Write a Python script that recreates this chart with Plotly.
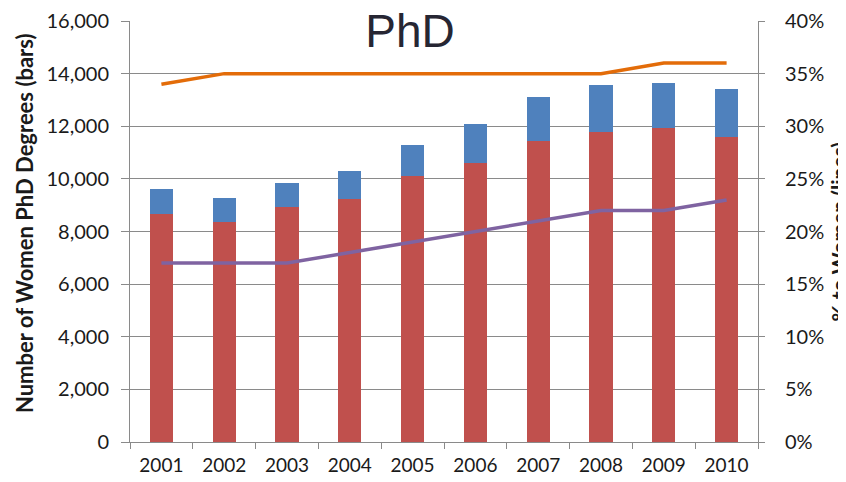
import plotly.graph_objects as go
from plotly.subplots import make_subplots

# Data
years = ["2001", "2002", "2003", "2004", "2005", "2006", "2007", "2008", "2009", "2010"]
phd_red = [8650, 8380, 8950, 9250, 10100, 10600, 11450, 11800, 11950, 11600]
phd_blue = [950, 900, 900, 1050, 1200, 1500, 1650, 1750, 1700, 1800]
pct_orange = [0.34, 0.35, 0.35, 0.35, 0.35, 0.35, 0.35, 0.35, 0.36, 0.36]
pct_purple = [0.17, 0.17, 0.17, 0.18, 0.19, 0.20, 0.21, 0.22, 0.22, 0.23]

left_ticks = [0, 2000, 4000, 6000, 8000, 10000, 12000, 14000, 16000]
right_ticks = [0, 0.05, 0.10, 0.15, 0.20, 0.25, 0.30, 0.35, 0.40]

FONT = "Lato"
GRID = "#8a8a8a"
PW = 628  # plot width in px

fig = make_subplots(specs=[[{"secondary_y": True}]])

fig.add_trace(go.Bar(x=years, y=phd_red, marker=dict(color="#C0504D", line=dict(width=0)),
                     showlegend=False), secondary_y=False)
fig.add_trace(go.Bar(x=years, y=phd_blue, marker=dict(color="#4F81BD", line=dict(width=0)),
                     showlegend=False), secondary_y=False)

fig.add_trace(go.Scatter(x=years, y=pct_orange, mode="lines",
                         line=dict(color="#E36C09", width=3.5), showlegend=False),
              secondary_y=True)
fig.add_trace(go.Scatter(x=years, y=pct_purple, mode="lines",
                         line=dict(color="#7F63A1", width=3.5), showlegend=False),
              secondary_y=True)

# page body adds ~8px offset, margins compensate so plot sits at x 130..758, y 20..441
fig.update_layout(
    width=846, height=482,
    margin=dict(l=122, r=96, t=13, b=48),
    paper_bgcolor="white", plot_bgcolor="white",
    barmode="stack", bargap=0.63,
    font=dict(family=FONT, size=20, color="#1a1a1a"),
    title=dict(text="PhD", xref="paper", x=0.446, xanchor="center",
               yref="container", y=1 - 23 / 482, yanchor="middle",
               font=dict(family="Liberation Sans", size=46, color="#262633")),
    # white box behind the title that breaks the top gridline
    shapes=[dict(type="rect", xref="paper", yref="paper", layer="above",
                 x0=(345 - 130) / PW, x1=(478 - 130) / PW,
                 y0=1 - 8 / 421, y1=1 + 12 / 421,
                 fillcolor="white", line=dict(width=0))],
    annotations=[
        dict(text="<b>% to Women (lines)</b>", xref="paper", yref="paper",
             x=1.0 + 80 / PW, y=0.5, xanchor="center", yanchor="middle",
             textangle=-90, showarrow=False,
             font=dict(family=FONT, size=21, color="#1a1a1a")),
        dict(text="<b>Number of Women PhD Degrees (bars)</b>", xref="paper", yref="paper",
             x=-106 / PW, y=0.52, xanchor="center", yanchor="middle",
             textangle=-90, showarrow=False,
             font=dict(family=FONT, size=22, color="#1a1a1a")),
    ],
)

fig.update_xaxes(
    domain=[0, 1], automargin=False,
    showline=True, linecolor=GRID, linewidth=1,
    ticks="outside", ticklen=6, tickcolor=GRID, tickson="boundaries",
    ticklabelstandoff=6,
    showgrid=False, tickfont=dict(size=19),
)

fig.update_yaxes(
    automargin=False,
    range=[0, 16000], tickvals=left_ticks, tickformat=",d",
    showline=True, linecolor=GRID, linewidth=1,
    ticks="outside", ticklen=8, tickcolor=GRID, ticklabelstandoff=8,
    showgrid=True, gridcolor=GRID, gridwidth=1,
    zeroline=False,
    secondary_y=False,
)

fig.update_yaxes(
    automargin=False,
    range=[0, 0.40], tickvals=right_ticks, tickformat=".0%",
    showline=True, linecolor=GRID, linewidth=1,
    ticks="outside", ticklen=6, tickcolor=GRID, ticklabelstandoff=16,
    showgrid=False, zeroline=False,
    secondary_y=True,
)

fig.write_html("out.html")
